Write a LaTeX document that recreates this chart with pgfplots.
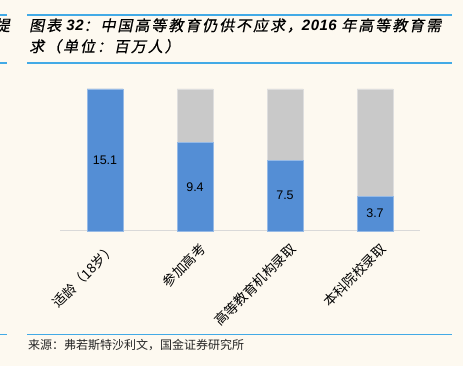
\documentclass[border=0pt]{standalone}
\usepackage{pgfplots}
\pgfplotsset{compat=1.18}
\usepackage{pgfplotstable}
\usepackage{fontspec}
\setmainfont{Liberation Sans}
\newfontfamily\cjk{Noto Sans CJK SC}
\newfontfamily\cjktitle{Noto Sans CJK SC}[FakeSlant=0.2, FakeBold=0.6, LetterSpace=13]
\newfontfamily\numtitle{Liberation Sans Bold Italic}[LetterSpace=3]
\definecolor{cream}{RGB}{253,249,240}
\definecolor{barblue}{RGB}{84,142,213}
\definecolor{barblueedge}{RGB}{150,186,230}
\definecolor{bargray}{RGB}{201,201,201}
\definecolor{bargrayedge}{RGB}{222,222,222}
\definecolor{rulecol}{RGB}{66,170,230}
\definecolor{axgray}{RGB}{217,217,217}
\pgfplotstableread{
x v total
0 15.1 15.1
1 9.4 15.1
2 7.5 15.1
3 3.7 15.1
}\data
\begin{document}
\begin{tikzpicture}
\useasboundingbox (0,0) rectangle (463bp,366bp);
\clip (0,0) rectangle (463bp,366bp);
\fill[cream] (0,0) rectangle (463bp,366bp);
% rules
\draw[rulecol, line width=1.5bp] (27bp,351bp) -- (452bp,351bp);
\draw[rulecol, line width=1.5bp] (0bp,351bp) -- (7bp,351bp);
\draw[rulecol, line width=1.5bp] (27bp,303bp) -- (452bp,303bp);
\draw[rulecol, line width=1.5bp] (0bp,303bp) -- (7bp,303bp);
\draw[rulecol, line width=1.5bp] (27bp,31.3bp) -- (452bp,31.3bp);
\draw[rulecol, line width=1.5bp] (0bp,31.3bp) -- (7bp,31.3bp);
% fragment at left
\node[anchor=base east, inner sep=0pt, font=\fontsize{15bp}{16bp}\cjktitle] at (10bp,335bp) {提};
% title
\node[anchor=base west, inner sep=0pt, font=\fontsize{15bp}{17bp}\selectfont] at (29bp,335bp)
  {{\cjktitle 图表 }{\numtitle 32}{\cjktitle ：中国高等教育仍供不应求，}{\numtitle 2016 }{\cjktitle 年高等教育需}};
\node[anchor=base west, inner sep=0pt, font=\fontsize{15bp}{17bp}\selectfont] at (29bp,314bp)
  {{\cjktitle 求（单位：百万人）}};
% source
\node[anchor=west, inner sep=0pt, font=\fontsize{12bp}{13bp}\cjk, text=black!85] at (28bp,20.5bp)
  {来源：弗若斯特沙利文，国金证券研究所};
\begin{axis}[
  at={(60bp,135bp)}, anchor=south west,
  scale only axis, width=360bp, height=142bp,
  xmin=-0.5, xmax=3.5, ymin=0, ymax=15.1,
  clip=false,
  axis x line*=bottom, axis y line=none,
  x axis line style={draw=axgray, line width=1bp, -},
  xtick=data, ytick=\empty,
  xticklabels={适龄（18岁）,参加高考,高等教育机构录取,本科院校录取},
  tick style={draw=none},
  xticklabel style={rotate=45, anchor=east, inner sep=0pt, yshift=-17bp, xshift=-5bp,
    font=\fontsize{13.5bp}{15bp}\cjk},
]
\addplot[ybar, bar width=36bp, bar shift=0pt, fill=bargray, draw=bargrayedge, line width=0.8bp]
  table[x=x, y=total]{\data};
\addplot[ybar, bar width=36bp, bar shift=0pt, fill=barblue, draw=barblueedge, line width=0.8bp]
  table[x=x, y=v]{\data};
\addplot[only marks, mark=none, nodes near coords, point meta=explicit symbolic,
  nodes near coords style={anchor=center, font=\fontsize{12.5bp}{14bp}\selectfont, text=black}]
  table[x=x, y expr=\thisrow{v}/2, meta=v]{\data};
\end{axis}
\end{tikzpicture}
\end{document}
